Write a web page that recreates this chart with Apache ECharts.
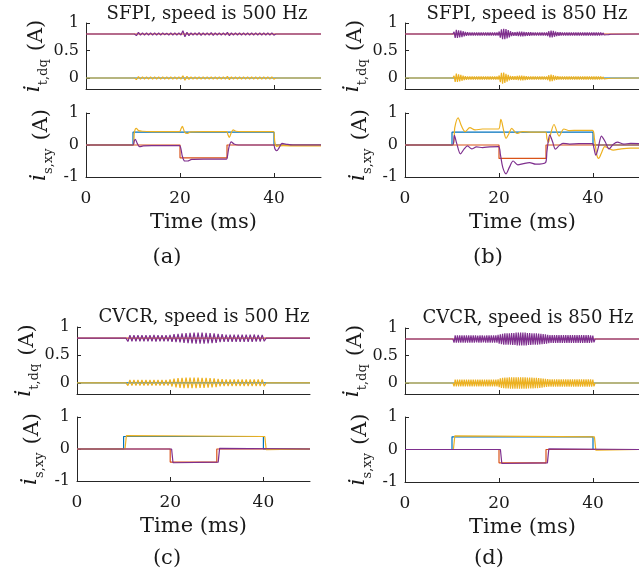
<!DOCTYPE html>
<html><head><meta charset="utf-8">
<script src="https://cdn.jsdelivr.net/npm/echarts@6/dist/echarts.min.js"></script>
<style>html,body{margin:0;padding:0;background:#fff}#c{width:639px;height:580px}</style>
</head><body><div id="c"></div><script>
// ---------- DATA ----------
const xTicks = [0, 20, 40];
const yTicksDq = [0, 0.5, 1];
const yTicksXy = [-1, 0, 1];
const panelTitles = ['SFPI, speed is 500 Hz', 'SFPI, speed is 850 Hz', 'CVCR, speed is 500 Hz', 'CVCR, speed is 850 Hz'];
const panelTags = ['(a)', '(b)', '(c)', '(d)'];

// i_t,dq reference levels (blue = d, red = q)
const dqRefD = 0;
const dqRefQ = 0.8;

// oscillation sampling grids (ms)
const oscStartA = 10.3, oscStepA = 0.43;
const oscStartB = 10.2, oscStepB = 0.24;
const oscStartC = 10.5, oscStepC = 0.43;
const oscStartD = 10.2, oscStepD = 0.24;

const purpleTopA = [0.80,0.77,0.83,0.78,0.82,0.78,0.82,0.78,0.82,0.78,
 0.82,0.78,0.82,0.78,0.82,0.785,0.815,0.78,0.82,0.78,
 0.82,0.78,0.82,0.78,0.86,0.75,0.83,0.77,0.82,0.78,
 0.82,0.78,0.825,0.775,0.82,0.78,0.82,0.78,0.825,0.775,
 0.82,0.78,0.82,0.78,0.82,0.78,0.83,0.77,0.82,0.78,
 0.82,0.78,0.82,0.78,0.82,0.78,0.82,0.78,0.82,0.78,
 0.82,0.78,0.82,0.78,0.82,0.78,0.82,0.78,0.82,0.78,0.80];
const yellowTopA = [0.00,-0.03,0.025,-0.02,0.02,-0.02,0.02,-0.02,0.02,-0.02,
 0.02,-0.02,0.02,-0.02,0.02,-0.02,0.02,-0.02,0.02,-0.02,
 0.02,-0.02,0.02,-0.02,0.04,-0.04,0.03,-0.025,0.02,-0.02,
 0.02,-0.02,0.02,-0.02,0.02,-0.02,0.02,-0.02,0.02,-0.02,
 0.02,-0.02,0.02,-0.02,0.02,-0.02,0.03,-0.03,0.02,-0.02,
 0.02,-0.02,0.02,-0.02,0.02,-0.02,0.02,-0.02,0.02,-0.02,
 0.02,-0.02,0.02,-0.02,0.02,-0.02,0.02,-0.02,0.02,-0.02,0.00];

const purpleTopB = [0.80,
 0.84,0.73,0.875,0.73,0.865,0.74,0.86,0.745,0.85,0.755,
 0.84,0.765,0.832,0.77,0.83,0.77,0.83,0.77,0.83,0.77,
 0.83,0.77,0.83,0.77,0.83,0.77,0.83,0.77,0.83,0.77,
 0.83,0.77,0.83,0.77,0.83,0.77,0.83,0.77,0.83,0.77,
 0.845,0.735,0.885,0.705,0.895,0.705,0.89,0.72,0.87,0.74,
 0.85,0.76,0.835,0.765,0.835,0.765,0.84,0.76,0.845,0.755,
 0.845,0.755,0.84,0.76,0.835,0.765,0.835,0.768,0.832,0.77,
 0.83,0.77,0.83,0.77,0.83,0.77,0.83,0.77,0.83,0.77,
 0.83,0.77,0.83,0.76,0.85,0.74,0.86,0.74,0.855,0.75,
 0.845,0.76,0.835,0.768,0.832,0.77,0.83,0.77,0.83,0.77,
 0.83,0.77,0.83,0.77,0.83,0.77,0.83,0.77,0.83,0.77,
 0.83,0.77,0.83,0.77,0.83,0.77,0.83,0.77,0.83,0.77,
 0.83,0.77,0.83,0.77,0.83,0.77,0.83,0.77,0.83,0.77,
 0.826,0.776,0.82,0.782,0.815,0.786,0.81,0.79,0.806,0.795];
const yellowTopB = [0.00,
 0.04,-0.07,0.08,-0.07,0.065,-0.06,0.055,-0.05,0.045,-0.04,
 0.035,-0.032,0.03,-0.028,0.028,-0.028,0.028,-0.028,0.028,-0.028,
 0.028,-0.028,0.028,-0.028,0.028,-0.028,0.028,-0.028,0.028,-0.028,
 0.028,-0.028,0.028,-0.028,0.028,-0.028,0.028,-0.028,0.028,-0.028,
 0.045,-0.075,0.095,-0.105,0.1,-0.09,0.075,-0.065,0.055,-0.045,
 0.04,-0.035,0.035,-0.035,0.032,-0.035,0.037,-0.04,0.042,-0.045,
 0.045,-0.042,0.04,-0.036,0.034,-0.032,0.03,-0.03,0.03,-0.03,
 0.03,-0.03,0.03,-0.03,0.03,-0.03,0.03,-0.03,0.03,-0.03,
 0.03,-0.03,0.03,-0.04,0.05,-0.06,0.06,-0.055,0.05,-0.045,
 0.04,-0.035,0.032,-0.03,0.03,-0.03,0.03,-0.03,0.03,-0.03,
 0.03,-0.03,0.03,-0.03,0.03,-0.03,0.03,-0.03,0.03,-0.03,
 0.03,-0.03,0.03,-0.03,0.03,-0.03,0.03,-0.03,0.03,-0.03,
 0.03,-0.03,0.03,-0.03,0.03,-0.03,0.03,-0.03,0.03,-0.03,
 0.026,-0.022,0.02,-0.018,0.015,-0.013,0.011,-0.009,0.007,-0.005];

const purpleTopC = [0.80,0.74,0.855,0.745,0.855,0.745,0.855,0.745,0.855,0.745,
 0.855,0.745,0.855,0.745,0.86,0.74,0.855,0.745,0.855,0.745,
 0.855,0.745,0.86,0.735,0.87,0.73,0.875,0.725,0.885,0.715,
 0.89,0.71,0.895,0.705,0.9,0.7,0.9,0.7,0.9,0.7,
 0.895,0.705,0.89,0.71,0.885,0.715,0.875,0.73,0.87,0.735,
 0.865,0.735,0.865,0.735,0.865,0.735,0.865,0.735,0.865,0.735,
 0.865,0.735,0.865,0.735,0.865,0.74,0.86,0.74,0.86,0.745,0.80];
const yellowTopC = [0.00,-0.05,0.05,-0.05,0.05,-0.05,0.05,-0.05,0.05,-0.05,
 0.05,-0.05,0.05,-0.05,0.05,-0.05,0.05,-0.05,0.05,-0.05,
 0.05,-0.05,0.06,-0.065,0.075,-0.08,0.085,-0.09,0.09,-0.095,
 0.095,-0.095,0.095,-0.095,0.095,-0.095,0.095,-0.09,0.09,-0.09,
 0.09,-0.085,0.085,-0.08,0.08,-0.075,0.07,-0.065,0.065,-0.06,
 0.06,-0.06,0.06,-0.06,0.06,-0.06,0.06,-0.06,0.06,-0.06,
 0.06,-0.06,0.06,-0.06,0.06,-0.06,0.06,-0.06,0.06,-0.06,0.00];

const purpleTopD = [0.80,0.735,0.865,0.735,0.865,0.735,0.865,0.735,0.865,0.735,
 0.865,0.735,0.865,0.735,0.865,0.735,0.865,0.735,0.865,0.735,
 0.865,0.74,0.86,0.735,0.865,0.735,0.865,0.74,0.86,0.735,
 0.865,0.735,0.865,0.735,0.865,0.735,0.865,0.735,0.865,0.735,
 0.875,0.715,0.885,0.705,0.895,0.695,0.905,0.695,0.905,0.695,
 0.905,0.695,0.91,0.69,0.91,0.69,0.915,0.685,0.915,0.685,
 0.915,0.685,0.915,0.685,0.915,0.685,0.91,0.69,0.91,0.69,
 0.905,0.695,0.905,0.695,0.905,0.695,0.9,0.7,0.895,0.705,
 0.89,0.71,0.885,0.715,0.875,0.725,0.87,0.73,0.87,0.73,
 0.87,0.73,0.87,0.73,0.87,0.73,0.87,0.73,0.87,0.73,
 0.87,0.73,0.87,0.73,0.87,0.73,0.87,0.73,0.87,0.73,
 0.87,0.73,0.87,0.73,0.87,0.73,0.87,0.73,0.87,0.73,
 0.87,0.73,0.865,0.735,0.86,0.74,0.80];
const yellowTopD = [0.00,-0.06,0.06,-0.06,0.06,-0.06,0.06,-0.06,0.06,-0.06,
 0.06,-0.06,0.06,-0.06,0.06,-0.06,0.06,-0.06,0.06,-0.06,
 0.06,-0.06,0.06,-0.06,0.06,-0.06,0.06,-0.06,0.06,-0.06,
 0.06,-0.06,0.06,-0.06,0.06,-0.06,0.06,-0.06,0.06,-0.06,
 0.065,-0.075,0.085,-0.09,0.095,-0.095,0.1,-0.1,0.1,-0.1,
 0.105,-0.105,0.105,-0.105,0.105,-0.105,0.105,-0.105,0.105,-0.105,
 0.105,-0.105,0.105,-0.105,0.105,-0.105,0.1,-0.1,0.1,-0.1,
 0.1,-0.1,0.095,-0.095,0.095,-0.095,0.09,-0.09,0.085,-0.085,
 0.08,-0.075,0.075,-0.07,0.07,-0.065,0.065,-0.065,0.065,-0.065,
 0.065,-0.065,0.065,-0.065,0.065,-0.065,0.065,-0.065,0.065,-0.065,
 0.065,-0.065,0.065,-0.065,0.065,-0.065,0.065,-0.065,0.065,-0.065,
 0.065,-0.065,0.065,-0.065,0.065,-0.065,0.065,-0.065,0.065,-0.065,
 0.065,-0.065,0.065,-0.065,0.06,-0.06,0.00];

// i_s,xy : references (blue, red) and measured (yellow, purple)
const blueBotT = [0, 10, 10, 40, 40, 50];
const redBotT = [0, 20, 20, 30, 30, 50];
const blueBotA = [0, 0, 0.4, 0.4, 0, 0];
const redBotA = [0, 0, -0.4, -0.4, 0, 0];
const blueBotB = [0, 0, 0.4, 0.4, 0, 0];
const redBotB = [0, 0, -0.42, -0.42, 0, 0];
const blueBotC = [0, 0, 0.39, 0.39, 0, 0];
const redBotC = [0, 0, -0.41, -0.41, 0, 0];
const blueBotD = [0, 0, 0.39, 0.39, 0, 0];
const redBotD = [0, 0, -0.41, -0.41, 0, 0];

const yellowBotTA = [0,10.05,10.3,10.7,11.2,12,14,19.9,20.2,20.5,21.0,21.5,22.3,25,29.9,30.2,30.5,30.9,31.3,31.9,33,39.9,40.15,40.5,41,42,45,50];
const yellowBotA = [0,0,0.4,0.52,0.45,0.43,0.42,0.42,0.5,0.58,0.4,0.36,0.41,0.42,0.42,0.32,0.24,0.38,0.47,0.43,0.42,0.42,0.12,-0.04,-0.03,-0.02,-0.03,-0.03];
const purpleBotTA = [0,10.0,10.25,10.5,10.9,11.4,12.2,14,19.9,20.2,20.5,21.0,21.6,22.5,25,29.9,30.1,30.4,30.9,31.5,32.4,35,39.9,40.2,40.6,41.1,41.7,42.5,44,50];
const purpleBotA = [0,0,0.12,0.18,0.05,-0.05,-0.03,-0.02,-0.02,-0.12,-0.35,-0.5,-0.5,-0.45,-0.44,-0.44,-0.35,-0.08,0.1,0.03,0,0,0,-0.12,-0.18,-0.08,0.05,0.03,0,0];

const yellowBotTB = [0,10.2,10.6,11.3,12.0,12.8,13.8,14.9,16.5,18,19.9,20.4,21.0,21.5,22.1,22.7,23.8,25,27,29.9,30.2,30.5,31.0,31.7,32.8,33.8,35,37,39.9,40.3,40.8,41.2,41.8,42.5,43.3,44.3,46,48,50];
const yellowBotB = [0,0,0.55,0.85,0.6,0.42,0.54,0.47,0.5,0.5,0.5,0.8,0.45,0.21,0.35,0.52,0.36,0.42,0.4,0.4,0.2,0.08,0.35,0.64,0.28,0.5,0.45,0.46,0.46,0.2,-0.3,-0.42,-0.25,-0.05,-0.1,-0.16,-0.12,-0.1,-0.1];
const purpleBotTB = [0,10.1,10.5,11.0,11.8,12.6,13.3,14.2,15.2,16.5,18,19.9,20.3,20.8,21.5,22.2,23.0,24.0,25.2,26.5,27.8,29.9,30.2,30.8,31.4,32.0,32.8,33.6,35,37,39.9,40.2,40.6,41.1,41.8,42.6,43.4,44.3,45.2,46.5,48,50];
const purpleBotB = [0,0,0.3,0.05,-0.28,-0.12,-0.03,-0.12,-0.06,-0.08,-0.06,-0.05,-0.3,-0.7,-0.9,-0.7,-0.5,-0.62,-0.58,-0.55,-0.6,-0.55,-0.2,0.32,0.1,-0.13,-0.02,0.05,0.03,0.04,0.04,-0.1,-0.32,-0.1,0.28,0.1,-0.12,0.02,0.09,0.03,0.05,0.04];

const yellowBotTC = [0,10.3,10.6,10.9,40.3,40.6,40.9,50];
const yellowBotC = [0,0,0.42,0.39,0.39,-0.02,0,0];
const purpleBotTC = [0,20.3,20.6,20.9,30.3,30.6,30.9,50];
const purpleBotC = [0,0,-0.43,-0.41,-0.41,0.02,0,0];
const yellowBotTD = [0,10.3,10.6,10.9,40.3,40.6,40.9,50];
const yellowBotD = [0,0,0.42,0.39,0.39,-0.02,0,0];
const purpleBotTD = [0,20.3,20.6,20.9,30.3,30.6,30.9,50];
const purpleBotD = [0,0,-0.43,-0.41,-0.41,0.02,0,0];

// ---------- BUILD ----------
const FONT = 'DejaVu Serif';
const TXT = '#1a1a1a';
const AX = '#262626';
const C_BLUE = '#0072BD', C_RED = '#D95319', C_YEL = '#EDB120', C_PUR = '#7E2F8E';
const X_MIN = 0, X_MAX = 50;

function pairs(ts, vs) { return ts.map((t, i) => [t, vs[i]]); }
function flat(v) { return [[X_MIN, v], [X_MAX, v]]; }
function osc(base, start, step, vals) {
  const d = [[X_MIN, base]];
  vals.forEach((v, i) => d.push([+(start + i * step).toFixed(3), v]));
  d.push([X_MAX, base]);
  return d;
}

const grids = [
  {left: 86, top: 23, width: 235, height: 66},
  {left: 86, top: 113, width: 235, height: 64},
  {left: 405, top: 23, width: 235, height: 66},
  {left: 405, top: 113, width: 235, height: 64},
  {left: 77, top: 327, width: 233, height: 67},
  {left: 77, top: 417, width: 233, height: 64},
  {left: 405, top: 328, width: 235, height: 66},
  {left: 405, top: 417, width: 235, height: 65}
].map(g => Object.assign({outerBoundsMode: 'none', containLabel: false}, g));

const nameRich = {
  i: {fontFamily: FONT, fontStyle: 'italic', fontSize: 22, color: TXT, padding: [0, 0, 5, 0]},
  s: {fontFamily: FONT, fontSize: 13, color: TXT, verticalAlign: 'bottom'},
  u: {fontFamily: FONT, fontSize: 21, color: TXT, padding: [0, 0, 0, 8]}
};

const xAxes = [], yAxes = [];
for (let g = 0; g < 8; g++) {
  const bottom = g % 2 === 1;
  xAxes.push({
    gridIndex: g, type: 'value', min: X_MIN, max: X_MAX,
    axisLine: {show: true, onZero: false, lineStyle: {color: AX, width: 1}},
    axisTick: {show: true, inside: true, length: 4, customValues: xTicks, lineStyle: {color: AX}},
    axisLabel: {show: bottom, customValues: xTicks, fontFamily: FONT, fontSize: 17, color: TXT, margin: 13},
    splitLine: {show: false},
    name: bottom ? 'Time (ms)' : '', nameLocation: 'middle', nameGap: 35,
    nameTextStyle: {fontFamily: FONT, fontSize: 21, color: TXT}
  });
  yAxes.push({
    gridIndex: g, type: 'value', min: bottom ? -1 : -0.2, max: 1,
    axisLine: {show: true, onZero: false, lineStyle: {color: AX, width: 1}},
    axisTick: {show: true, inside: true, length: 4, customValues: bottom ? yTicksXy : yTicksDq, lineStyle: {color: AX}},
    axisLabel: {customValues: bottom ? yTicksXy : yTicksDq, fontFamily: FONT, fontSize: 16, color: TXT, margin: 7},
    splitLine: {show: false},
    name: bottom ? '{i|i}{s|s,xy}{u|(A)}' : '{i|i}{s|t,dq}{u|(A)}',
    nameLocation: 'middle', nameRotate: 90, nameGap: 31,
    nameTextStyle: {rich: nameRich}
  });
}

function line(g, data, color, smooth) {
  return {type: 'line', xAxisIndex: g, yAxisIndex: g, data: data, symbol: 'none', showSymbol: false,
    smooth: smooth || false, lineStyle: {color: color, width: 1.2}, itemStyle: {color: color},
    animation: false, silent: true};
}

const series = [
  // (a)
  line(0, flat(dqRefD), C_BLUE), line(0, flat(dqRefQ), C_RED),
  line(0, osc(dqRefD, oscStartA, oscStepA, yellowTopA), C_YEL), line(0, osc(dqRefQ, oscStartA, oscStepA, purpleTopA), C_PUR),
  line(1, pairs(blueBotT, blueBotA), C_BLUE), line(1, pairs(redBotT, redBotA), C_RED),
  line(1, pairs(yellowBotTA, yellowBotA), C_YEL, 0.3), line(1, pairs(purpleBotTA, purpleBotA), C_PUR, 0.3),
  // (b)
  line(2, flat(dqRefD), C_BLUE), line(2, flat(dqRefQ), C_RED),
  line(2, osc(dqRefD, oscStartB, oscStepB, yellowTopB), C_YEL), line(2, osc(dqRefQ, oscStartB, oscStepB, purpleTopB), C_PUR),
  line(3, pairs(blueBotT, blueBotB), C_BLUE), line(3, pairs(redBotT, redBotB), C_RED),
  line(3, pairs(yellowBotTB, yellowBotB), C_YEL, 0.3), line(3, pairs(purpleBotTB, purpleBotB), C_PUR, 0.3),
  // (c)
  line(4, flat(dqRefD), C_BLUE), line(4, flat(dqRefQ), C_RED),
  line(4, osc(dqRefD, oscStartC, oscStepC, yellowTopC), C_YEL), line(4, osc(dqRefQ, oscStartC, oscStepC, purpleTopC), C_PUR),
  line(5, pairs(blueBotT, blueBotC), C_BLUE), line(5, pairs(redBotT, redBotC), C_RED),
  line(5, pairs(yellowBotTC, yellowBotC), C_YEL), line(5, pairs(purpleBotTC, purpleBotC), C_PUR),
  // (d)
  line(6, flat(dqRefD), C_BLUE), line(6, flat(dqRefQ), C_RED),
  line(6, osc(dqRefD, oscStartD, oscStepD, yellowTopD), C_YEL), line(6, osc(dqRefQ, oscStartD, oscStepD, purpleTopD), C_PUR),
  line(7, pairs(blueBotT, blueBotD), C_BLUE), line(7, pairs(redBotT, redBotD), C_RED),
  line(7, pairs(yellowBotTD, yellowBotD), C_YEL), line(7, pairs(purpleBotTD, purpleBotD), C_PUR)
];

const titlePos = [[207, 5], [527, 5], [204, 308], [528, 309]];
const tagPos = [[167, 247], [488, 247], [167, 548], [489, 548]];
const titles = [];
panelTitles.forEach((t, i) => titles.push({text: t, left: titlePos[i][0], top: titlePos[i][1], textAlign: 'center', padding: 0,
  textStyle: {fontFamily: FONT, fontSize: 18, fontWeight: 'normal', color: TXT}}));
panelTags.forEach((t, i) => titles.push({text: t, left: tagPos[i][0], top: tagPos[i][1], textAlign: 'center', padding: 0,
  textStyle: {fontFamily: FONT, fontSize: 21, fontWeight: 'normal', color: TXT}}));

const chart = echarts.init(document.getElementById('c'), null, {renderer: 'canvas'});
chart.setOption({
  backgroundColor: '#ffffff',
  animation: false,
  title: titles,
  grid: grids,
  xAxis: xAxes,
  yAxis: yAxes,
  series: series
});
</script></body></html>
